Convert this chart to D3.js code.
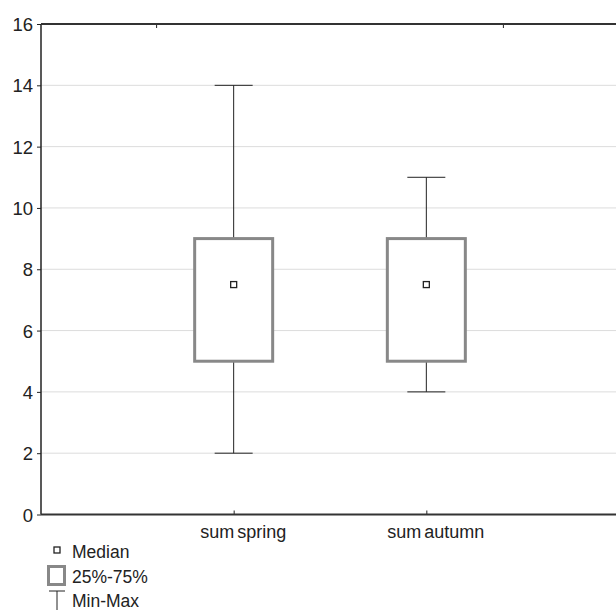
<!DOCTYPE html>
<html><head><meta charset="utf-8">
<script src="https://cdn.jsdelivr.net/npm/d3@7"></script>
<style>body{margin:0;background:#fff}svg{display:block;font-family:"Liberation Sans",Arial,sans-serif}</style>
</head><body>
<svg id="c" width="616" height="610"></svg>
<script>
const categories = ["sum spring", "sum autumn"];
const minVals = [2, 4];
const q1Vals = [5, 5];
const medianVals = [7.5, 7.5];
const q3Vals = [9, 9];
const maxVals = [14, 11];
const yTicks = [0, 2, 4, 6, 8, 10, 12, 14, 16];
const legendLabels = ["Median", "25%-75%", "Min-Max"];

const svg = d3.select("#c");
const mLeft = 41, mTop = 24, mBottom = 514.5, mRight = 619;
const x = d3.scaleLinear().domain([0, 3]).range([mLeft, mRight]);
const y = d3.scaleLinear().domain([0, 16]).range([mBottom, mTop]);

// grid
svg.append("g").selectAll("line").data(yTicks.slice(1, -1)).join("line")
  .attr("x1", mLeft).attr("x2", 616).attr("y1", d => y(d)).attr("y2", d => y(d))
  .attr("stroke", "#dcdcdc").attr("stroke-width", 1);

// left axis
const ya = svg.append("g").attr("transform", `translate(${mLeft},0)`)
  .call(d3.axisLeft(y).tickValues(yTicks).tickSize(4).tickPadding(4));
ya.select(".domain").remove();
ya.selectAll("text").attr("font-size", 18.5).attr("fill", "#222").attr("dy", "0.36em")
  .attr("font-family", "Liberation Sans, Arial, sans-serif");
ya.selectAll("line").attr("stroke", "#222");

// bottom axis
const xa = svg.append("g").attr("transform", `translate(0,${mBottom})`)
  .call(d3.axisBottom(x).tickValues([1, 2]).tickFormat(i => categories[i - 1]).tickSize(-4).tickPadding(8));
xa.select(".domain").remove();
xa.selectAll("line").attr("stroke", "#222");
xa.selectAll("text").attr("font-size", 18).attr("fill", "#222").attr("dx", 9).attr("y", 23).attr("dy", 0)
  .attr("font-family", "Liberation Sans, Arial, sans-serif").attr("word-spacing", "-2px");

// top ticks
svg.append("g").selectAll("line").data([0.6, 2.4]).join("line")
  .attr("x1", d => x(d)).attr("x2", d => x(d)).attr("y1", mTop).attr("y2", mTop + 4)
  .attr("stroke", "#222");

// frame lines
svg.append("line").attr("x1", mLeft).attr("x2", mLeft).attr("y1", mTop).attr("y2", mBottom).attr("stroke", "#222").attr("stroke-width", 1.5);
svg.append("line").attr("x1", mLeft).attr("x2", 616).attr("y1", mTop).attr("y2", mTop).attr("stroke", "#333").attr("stroke-width", 2);
svg.append("line").attr("x1", mLeft).attr("x2", 616).attr("y1", mBottom).attr("y2", mBottom).attr("stroke", "#333").attr("stroke-width", 2);

const boxW = 78, capW = 38, med = 6;
const g = svg.append("g").selectAll("g").data(categories.map((c, i) => i)).join("g");
// whiskers
g.append("line").attr("x1", i => x(i + 1)).attr("x2", i => x(i + 1))
  .attr("y1", i => y(maxVals[i])).attr("y2", i => y(q3Vals[i])).attr("stroke", "#222");
g.append("line").attr("x1", i => x(i + 1)).attr("x2", i => x(i + 1))
  .attr("y1", i => y(q1Vals[i])).attr("y2", i => y(minVals[i])).attr("stroke", "#222");
g.append("line").attr("x1", i => x(i + 1) - capW / 2).attr("x2", i => x(i + 1) + capW / 2)
  .attr("y1", i => y(maxVals[i])).attr("y2", i => y(maxVals[i])).attr("stroke", "#222");
g.append("line").attr("x1", i => x(i + 1) - capW / 2).attr("x2", i => x(i + 1) + capW / 2)
  .attr("y1", i => y(minVals[i])).attr("y2", i => y(minVals[i])).attr("stroke", "#222");
// box
g.append("rect").attr("x", i => x(i + 1) - boxW / 2).attr("width", boxW)
  .attr("y", i => y(q3Vals[i])).attr("height", i => y(q1Vals[i]) - y(q3Vals[i]))
  .attr("fill", "#fff").attr("stroke", "#888").attr("stroke-width", 3);
// median
g.append("rect").attr("x", i => x(i + 1) - med / 2).attr("y", i => y(medianVals[i]) - med / 2)
  .attr("width", med).attr("height", med).attr("fill", "#fff").attr("stroke", "#222").attr("stroke-width", 1.3);

// legend
const lg = svg.append("g");
lg.append("rect").attr("x", 54).attr("y", 547).attr("width", 6).attr("height", 6).attr("fill", "#fff").attr("stroke", "#222").attr("stroke-width", 1.3);
lg.append("rect").attr("x", 48.5).attr("y", 566.5).attr("width", 16).attr("height", 18).attr("fill", "#fff").attr("stroke", "#888").attr("stroke-width", 3);
lg.append("line").attr("x1", 57).attr("x2", 57).attr("y1", 591).attr("y2", 610).attr("stroke", "#222");
lg.append("line").attr("x1", 49).attr("x2", 65).attr("y1", 591).attr("y2", 591).attr("stroke", "#222");
lg.selectAll("text").data(legendLabels).join("text")
  .attr("x", 72).attr("y", (d, i) => 558 + i * 24.5).attr("font-size", 17.5).attr("fill", "#222").text(d => d);
</script>
</body></html>
